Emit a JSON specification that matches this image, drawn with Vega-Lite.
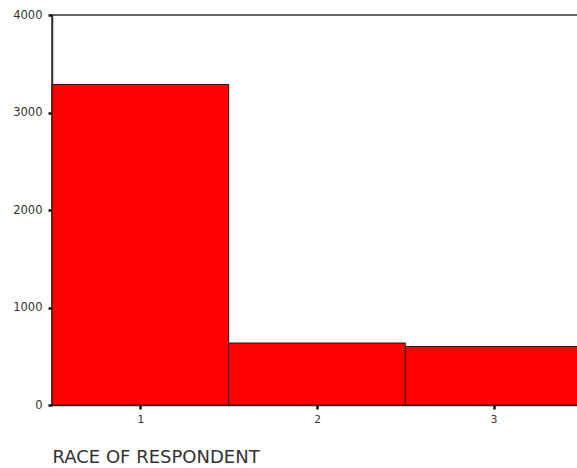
{
  "$schema": "https://vega.github.io/schema/vega-lite/v6.json",
  "width": 530,
  "height": 390,
  "autosize": {"type": "none"},
  "padding": {"left": 52, "top": 15, "right": 0, "bottom": 63},
  "background": "white",
  "config": {
    "view": {"stroke": "#333333", "strokeWidth": 1.5},
    "font": "DejaVu Sans"
  },
  "data": {
    "values": [
      {"race": 1, "count": 3287},
      {"race": 2, "count": 636},
      {"race": 3, "count": 600}
    ]
  },
  "transform": [
    {"calculate": "datum.race - 0.5", "as": "lo"},
    {"calculate": "datum.race + 0.5", "as": "hi"}
  ],
  "mark": {"type": "rect", "fill": "#ff0000", "stroke": "#3a0a0a", "strokeWidth": 1},
  "encoding": {
    "x": {
      "field": "lo",
      "type": "quantitative",
      "scale": {"domain": [0.5, 3.5], "nice": false, "zero": false},
      "axis": {
        "values": [1, 2, 3],
        "format": "d",
        "title": "RACE OF RESPONDENT",
        "titleAnchor": "start",
        "titleAlign": "left",
        "titleFontWeight": "normal",
        "titleFont": "DejaVu Sans",
        "titleFontSize": 18,
        "titleColor": "#333333",
        "titlePadding": 24,
        "labelFontSize": 10.5,
        "labelColor": "#333333",
        "labelPadding": 5,
        "tickSize": 4,
        "tickWidth": 2.5,
        "tickColor": "#111111",
        "domainColor": "#333333",
        "domainWidth": 1.5,
        "grid": false
      }
    },
    "x2": {"field": "hi"},
    "y": {
      "field": "count",
      "type": "quantitative",
      "scale": {"domain": [0, 4000], "nice": false},
      "axis": {
        "values": [0, 1000, 2000, 3000, 4000],
        "title": null,
        "format": "d",
        "labelFontSize": 11.5,
        "labelColor": "#333333",
        "labelPadding": 6,
        "tickSize": 4,
        "tickWidth": 2.5,
        "tickColor": "#111111",
        "domainColor": "#333333",
        "domainWidth": 1.5,
        "grid": false
      }
    },
    "y2": {"datum": 0}
  }
}
